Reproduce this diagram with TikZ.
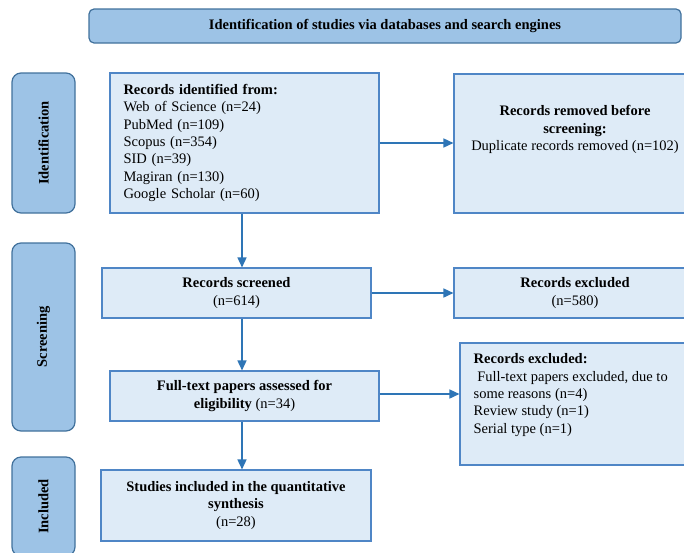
\documentclass[tikz,border=0pt]{standalone}
\usepackage{fontspec}
\setmainfont{Liberation Serif}
\usetikzlibrary{arrows.meta,positioning}

\definecolor{stageblue}{HTML}{9DC3E6}
\definecolor{stageline}{HTML}{41719C}
\definecolor{boxfill}{HTML}{DEEBF7}
\definecolor{boxline}{HTML}{4F86C6}
\definecolor{arrowblue}{HTML}{2E75B6}

\tikzset{
  stage/.style={draw=stageline, fill=stageblue, line width=1.2pt, rounded corners=9pt, font=\bfseries, inner sep=0pt},
  record/.style={draw=boxline, fill=boxfill, line width=1.1pt, inner sep=0pt},
  flow/.style={draw=arrowblue, line width=1.5pt, -{Triangle[length=10pt,width=9pt]}},
  plain/.style={inner sep=0pt},
}

\begin{document}
\fontsize{14.5}{17.4}\selectfont
\begin{tikzpicture}[x=1pt,y=-1pt]
  \useasboundingbox (0,0) rectangle (684,552);
  \clip (0,0) rectangle (684,552);

  % Encabezado
  \node[stage, rounded corners=5pt, minimum width=592pt, minimum height=34pt] (head) at (385,26)
    {Identification of studies via databases and search engines};

  % Etapas
  \foreach \nm/\yc/\len/\txt in {stageid/143/140/Identification, stagescr/337/188/Screening, stageinc/506.5/99/Included} {
    \node[stage, rotate=90, minimum width=\len pt, minimum height=63pt] (\nm) at (43.5,\yc) {\txt};
  }

  % Cajas
  \node[record, minimum width=269pt, minimum height=140pt, text width=242pt, align=left] (ident) at (244.5,143)
    {\textbf{Records identified from:}\\ Web of Science (n=24)\\ PubMed (n=109)\\ Scopus (n=354)\\ SID (n=39)\\ Magiran (n=130)\\ Google Scholar (n=60)};
  \node[record, minimum width=242pt, minimum height=139pt] (removed) at (575,143.5) {};
  \node[plain, align=center, anchor=north] (removedtxt) at ([yshift=-32pt]removed.north)
    {\textbf{Records removed before}\\ \textbf{screening:}\\ Duplicate records removed (n=102)};

  \node[record, minimum width=269pt, minimum height=50pt, align=center] (screened) at (236.5,293)
    {\textbf{Records screened}\\ (n=614)};
  \node[record, minimum width=242pt, minimum height=50pt, align=center] (excluded) at (575,293)
    {\textbf{Records excluded}\\ (n=580)};

  \node[record, minimum width=269pt, minimum height=50pt, align=center] (fulltext) at (244.5,396)
    {\textbf{Full-text papers assessed for}\\ \textbf{eligibility} (n=34)};
  \node[record, minimum width=240pt, minimum height=122pt] (reasons) at (580,404) {};
  \node[plain, align=left, anchor=north west] (reasonstxt) at ([xshift=14pt,yshift=-11pt]reasons.north west)
    {\textbf{Records excluded:}\\ \ Full-text papers excluded, due to\\ some reasons (n=4)\\ Review study (n=1)\\ Serial type (n=1)};

  \node[record, minimum width=270pt, minimum height=71pt, align=center] (studies) at (236,505.5)
    {\textbf{Studies included in the quantitative}\\ \textbf{synthesis}\\ (n=28)};

  % Flechas
  \coordinate (spine) at (242,0);
  \draw[flow] (ident.south -| spine) -- (screened.north -| spine);
  \draw[flow] (screened.south -| spine) -- (fulltext.north -| spine);
  \draw[flow] (fulltext.south -| spine) -- (studies.north -| spine);
  \draw[flow] (ident.east) -- (ident.east -| removed.west);
  \draw[flow] (screened.east) -- (excluded.west);
  \draw[flow] ([yshift=2pt]fulltext.east) -- ([yshift=2pt]fulltext.east -| reasons.west);
\end{tikzpicture}
\end{document}
